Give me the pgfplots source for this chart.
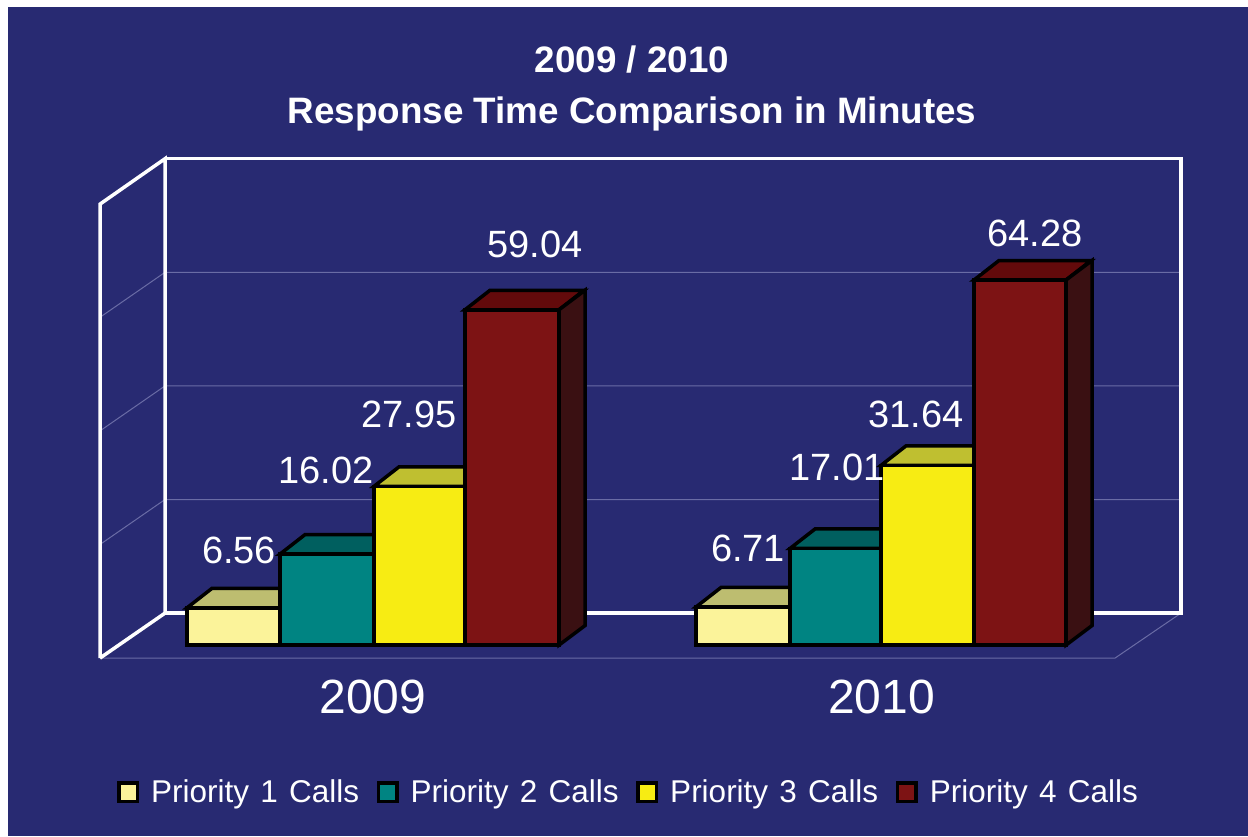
\documentclass[border=0pt]{standalone}
\usepackage{pgfplots}
\usepackage{fontspec}
\setmainfont{Liberation Sans}
\pgfplotsset{compat=1.18}
\definecolor{bgnavy}{HTML}{282A72}
\definecolor{gridc}{HTML}{6A6CA5}
\definecolor{pa}{HTML}{FBF39A}\definecolor{pat}{HTML}{BDBD70}
\definecolor{pb}{HTML}{008482}\definecolor{pbt}{HTML}{005F5F}
\definecolor{pc}{HTML}{F7EC13}\definecolor{pct}{HTML}{BFBF30}
\definecolor{pd}{HTML}{7D1314}\definecolor{pdt}{HTML}{630A0B}\definecolor{pds}{HTML}{3A1012}
% x0, x1, value, value + depth, front colour, top colour
\newcommand\threeDbar[6]{%
  \addplot[forget plot,fill=#6,draw=black,line width=3.5pt] coordinates {(#1,#3)(#1+25,#4)(#2+25,#4)(#2,#3)} --cycle;
  \addplot[forget plot,fill=#5,draw=black,line width=3.5pt] coordinates {(#1,0)(#2,0)(#2,#3)(#1,#3)} --cycle;
}
\newcommand\sidebar[3]{%
  \addplot[forget plot,fill=pds,draw=black,line width=3.5pt] coordinates {(#1,0)(#1+26,3.43)(#1+26,#3)(#1,#2)} --cycle;
}
\newcommand\vlabel[3]{\node[text=white,font=\fontsize{38}{38}\selectfont,inner sep=0pt] at (axis cs:#1,#2) {#3};}
\begin{document}
\begin{tikzpicture}
\begin{axis}[
  scale only axis, width=1248pt, height=836pt,
  xmin=0, xmax=1248, ymin=-33.63, ymax=113.56,
  axis on top,
  axis line style={draw=none},
  axis background/.style={fill=white},
  major tick length=0pt,
  ymajorticks=false,
  xtick={373,881.5}, xticklabels={2009,2010},
  x tick label style={text=white,font=\fontsize{48}{48}\selectfont,yshift=160pt},
  title={2009 / 2010\\Response Time Comparison in Minutes},
  title style={at={(0.5064,0.887)},anchor=center,align=center,text=white,
    font=\bfseries\fontsize{36.8}{51}\selectfont},
  legend columns=4,
  legend style={at={(0.5036,0.0526)},anchor=center,draw=none,fill=none,
    text=white,font=\fontsize{31.5}{36}\selectfont,
    /tikz/every even column/.append style={column sep=15.5pt},
    /tikz/every odd column/.append style={column sep=10pt}},
  legend cell align=left,
]
% background
\addplot[forget plot,fill=bgnavy,draw=none] coordinates {(8,112.4)(1248,112.4)(1248,-33.63)(8,-33.63)} --cycle;
% gridlines on the walls
\addplot[forget plot,gridc,line width=1pt] coordinates {(100,17.71)(165,25.63)(1181,25.63)};
\addplot[forget plot,gridc,line width=1pt] coordinates {(100,37.71)(165,45.63)(1181,45.63)};
\addplot[forget plot,gridc,line width=1pt] coordinates {(100,57.71)(165,65.63)(1181,65.63)};
\addplot[forget plot,gridc,line width=1pt] coordinates {(100,-2.29)(1115,-2.29)(1181,5.63)};
% walls
\addplot[forget plot,white,line width=3.5pt] coordinates {(100,-2.29)(100,77.64)(165,85.63)(165,5.63)(100,-2.29)};
\addplot[forget plot,white,line width=3.5pt] coordinates {(165,85.63)(1181,85.63)(1181,5.63)(165,5.63)};
% bars
\threeDbar{187}{280}{6.56}{9.99}{pa}{pat}
\threeDbar{280}{374}{16.02}{19.45}{pb}{pbt}
\threeDbar{374}{465}{27.95}{31.38}{pc}{pct}
\threeDbar{465}{559}{59.04}{62.47}{pd}{pdt}
\sidebar{559}{59.04}{62.47}
\threeDbar{696}{790}{6.71}{10.14}{pa}{pat}
\threeDbar{790}{881}{17.01}{20.44}{pb}{pbt}
\threeDbar{881}{974}{31.64}{35.07}{pc}{pct}
\threeDbar{974}{1066}{64.28}{67.71}{pd}{pdt}
\sidebar{1066}{64.28}{67.71}
% value labels
\vlabel{239}{16.7}{6.56}
\vlabel{326}{30.8}{16.02}
\vlabel{409}{40.7}{27.95}
\vlabel{535}{70.6}{59.04}
\vlabel{748}{17.1}{6.71}
\vlabel{837}{31.3}{17.01}
\vlabel{916}{40.7}{31.64}
\vlabel{1035}{72.4}{64.28}
% legend
\pgfplotsset{legend image code/.code={\draw[#1,draw=black,line width=3.5pt] (0pt,-9.25pt) rectangle (18.5pt,9.25pt);}}
\addlegendimage{fill=pa}\addlegendentry{Priority\hspace{2.5pt} 1\hspace{2.5pt} Calls}
\addlegendimage{fill=pb}\addlegendentry{Priority\hspace{2.5pt} 2\hspace{2.5pt} Calls}
\addlegendimage{fill=pc}\addlegendentry{Priority\hspace{2.5pt} 3\hspace{2.5pt} Calls}
\addlegendimage{fill=pd}\addlegendentry{Priority\hspace{2.5pt} 4\hspace{2.5pt} Calls}
\end{axis}
\end{tikzpicture}
\end{document}
